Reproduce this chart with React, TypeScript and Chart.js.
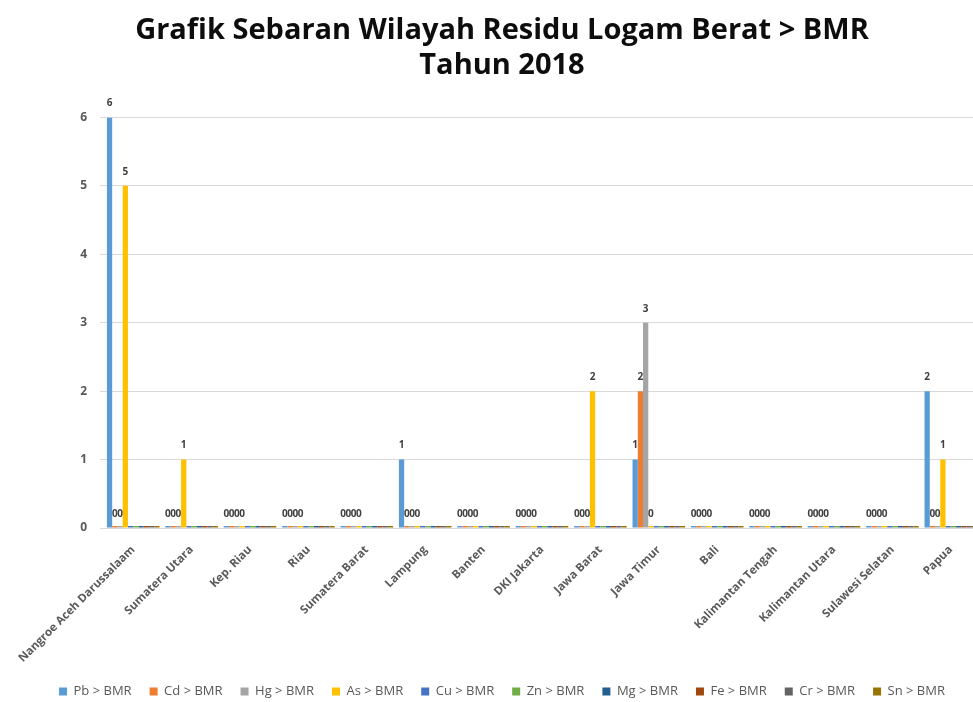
import React, { useEffect, useRef } from "react";
import { Chart, registerables } from "chart.js";

Chart.register(...registerables);

const categories = [
  "Nangroe Aceh Darussalaam",
  "Sumatera Utara",
  "Kep. Riau",
  "Riau",
  "Sumatera Barat",
  "Lampung",
  "Banten",
  "DKI Jakarta",
  "Jawa Barat",
  "Jawa Timur",
  "Bali",
  "Kalimantan Tengah",
  "Kalimantan Utara",
  "Sulawesi Selatan",
  "Papua",
];

const pb = [6, 0, 0, 0, 0, 1, 0, 0, 0, 1, 0, 0, 0, 0, 2];
const cd = [0, 0, 0, 0, 0, 0, 0, 0, 0, 2, 0, 0, 0, 0, 0];
const hg = [0, 0, 0, 0, 0, 0, 0, 0, 0, 3, 0, 0, 0, 0, 0];
const as = [5, 1, 0, 0, 0, 0, 0, 0, 2, 0, 0, 0, 0, 0, 1];
const cu = [0, 0, 0, 0, 0, 0, 0, 0, 0, 0, 0, 0, 0, 0, 0];
const zn = [0, 0, 0, 0, 0, 0, 0, 0, 0, 0, 0, 0, 0, 0, 0];
const mg = [0, 0, 0, 0, 0, 0, 0, 0, 0, 0, 0, 0, 0, 0, 0];
const fe = [0, 0, 0, 0, 0, 0, 0, 0, 0, 0, 0, 0, 0, 0, 0];
const cr = [0, 0, 0, 0, 0, 0, 0, 0, 0, 0, 0, 0, 0, 0, 0];
const sn = [0, 0, 0, 0, 0, 0, 0, 0, 0, 0, 0, 0, 0, 0, 0];

const seriesNames = [
  "Pb > BMR",
  "Cd > BMR",
  "Hg > BMR",
  "As > BMR",
  "Cu > BMR",
  "Zn > BMR",
  "Mg > BMR",
  "Fe > BMR",
  "Cr > BMR",
  "Sn > BMR",
];
const seriesValues = [pb, cd, hg, as, cu, zn, mg, fe, cr, sn];
const seriesColors = [
  "#5B9BD5",
  "#ED7D31",
  "#A5A5A5",
  "#FFC000",
  "#4472C4",
  "#70AD47",
  "#255E91",
  "#9E480E",
  "#636363",
  "#997300",
];
const labeledSeries = 4;

const titleLines = ["Grafik Sebaran Wilayah Residu Logam Berat > BMR", "Tahun 2018"];

const FONT = "'Open Sans', Lato, sans-serif";

const valueLabels = {
  id: "valueLabels",
  afterDatasetsDraw(chart: any) {
    const ctx = chart.ctx;
    const yScale = chart.scales.y;
    ctx.save();
    ctx.font = `bold 10px ${FONT}`;
    ctx.fillStyle = "#404040";
    ctx.textAlign = "center";
    ctx.textBaseline = "middle";
    for (let d = 0; d < Math.min(labeledSeries, chart.data.datasets.length); d++) {
      const meta = chart.getDatasetMeta(d);
      const data = chart.data.datasets[d].data as number[];
      meta.data.forEach((el: any, i: number) => {
        const v = data[i];
        const y = yScale.getPixelForValue(v) - 14;
        ctx.fillText(String(v), el.x, y);
      });
    }
    ctx.restore();
  },
};

export default function App() {
  const ref = useRef<HTMLCanvasElement | null>(null);

  useEffect(() => {
    if (!ref.current) return;
    const chart = new Chart(ref.current, {
      type: "bar",
      data: {
        labels: categories,
        datasets: seriesNames.map((name, i) => ({
          label: name,
          data: seriesValues[i],
          backgroundColor: seriesColors[i],
          borderWidth: 0,
          minBarLength: 2,
          categoryPercentage: 0.9,
          barPercentage: 1.0,
        })),
      },
      options: {
        animation: false,
        responsive: false,
        layout: { padding: { left: 0, right: 0, top: 0, bottom: -6 } },
        plugins: {
          title: {
            display: true,
            text: titleLines,
            color: "#0D0D0D",
            font: { family: FONT, size: 29, weight: "bold", lineHeight: 1.18 },
            padding: { top: 14, bottom: 35 },
          },
          legend: {
            position: "bottom",
            labels: {
              boxWidth: 8,
              boxHeight: 8,
              padding: 18,
              color: "#595959",
              font: { family: FONT, size: 13 },
            },
          },
          tooltip: { enabled: false },
        },
        scales: {
          x: {
            grid: { display: false },
            border: { display: true, color: "#D9D9D9" },
            ticks: {
              autoSkip: false,
              minRotation: 45,
              maxRotation: 45,
              padding: 7,
              color: "#595959",
              font: { family: FONT, size: 11.5, weight: "bold" },
            },
            afterFit: (s: any) => {
              s.height = 139;
            },
          },
          y: {
            min: 0,
            max: 6,
            ticks: {
              stepSize: 1,
              padding: 13,
              color: "#595959",
              font: { family: FONT, size: 12, weight: "bold" },
            },
            grid: { color: "#D9D9D9", tickLength: 4, drawTicks: true },
            border: { display: false },
            afterFit: (s: any) => {
              s.width = 104;
            },
          },
          yRight: {
            type: "linear",
            position: "right",
            display: true,
            min: 0,
            max: 6,
            ticks: { display: false },
            grid: { drawOnChartArea: false, drawTicks: false },
            border: { display: false },
            afterFit: (s: any) => {
              s.width = 24;
            },
          },
        },
      },
      plugins: [valueLabels],
    });
    return () => chart.destroy();
  }, []);

  return (
    <div
      style={{
        position: "fixed",
        left: 0,
        top: 0,
        width: 973,
        height: 702,
        overflow: "hidden",
        background: "#fff",
      }}
    >
      <canvas ref={ref} width={1004} height={702} style={{ display: "block" }} />
    </div>
  );
}
